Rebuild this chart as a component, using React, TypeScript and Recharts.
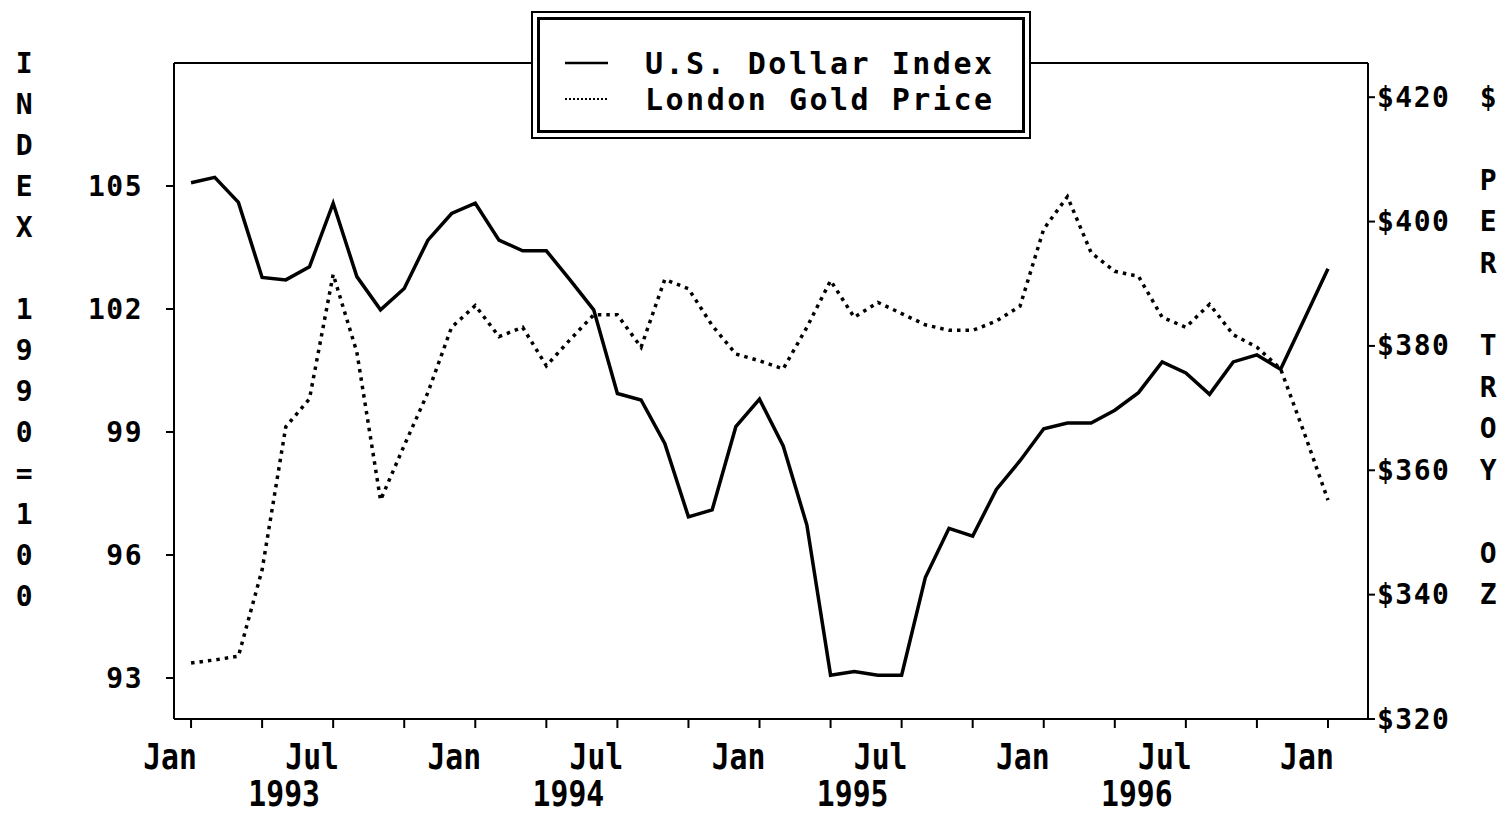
import { Line, LineChart, ReferenceLine, XAxis, YAxis } from "recharts";

// Monthly averages, Jan 1993 .. Jan 1997
const periods = [
  "Jan 93", "Feb 93", "Mar 93", "Apr 93", "May 93", "Jun 93", "Jul 93", "Aug 93", "Sep 93", "Oct 93", "Nov 93", "Dec 93",
  "Jan 94", "Feb 94", "Mar 94", "Apr 94", "May 94", "Jun 94", "Jul 94", "Aug 94", "Sep 94", "Oct 94", "Nov 94", "Dec 94",
  "Jan 95", "Feb 95", "Mar 95", "Apr 95", "May 95", "Jun 95", "Jul 95", "Aug 95", "Sep 95", "Oct 95", "Nov 95", "Dec 95",
  "Jan 96", "Feb 96", "Mar 96", "Apr 96", "May 96", "Jun 96", "Jul 96", "Aug 96", "Sep 96", "Oct 96", "Nov 96", "Dec 96",
  "Jan 97",
];

const dollarIndex = [
  105.08, 105.21, 104.6, 102.77, 102.71, 103.03, 104.58, 102.79, 101.98, 102.5, 103.68, 104.33,
  104.58, 103.68, 103.42, 103.42, 102.71, 101.98, 99.94, 99.78, 98.72, 96.93, 97.1, 99.13,
  99.8, 98.66, 96.73, 93.07, 93.16, 93.07, 93.07, 95.45, 96.65, 96.46, 97.6, 98.3,
  99.08, 99.22, 99.22, 99.53, 99.96, 100.71, 100.44, 99.92, 100.71, 100.88, 100.53, 101.75,
  102.98,
];

const goldPrice = [
  329.0, 329.5, 330.1, 344, 367, 371.5, 391.5, 379, 355.2, 364, 372.5, 383,
  386.5, 381.5, 383, 376.8, 381, 385, 385, 379.8, 390.7, 389.2, 383.3, 378.7,
  377.6, 376.3, 383, 390.5, 384.6, 387, 385.2, 383.4, 382.5, 382.5, 384, 386.4,
  398.8, 404, 395, 392, 391.2, 384.6, 383, 386.7, 381.8, 379.8, 376.3, 366,
  355.2,
];

const quarterTicks = [0, 3, 6, 9, 12, 15, 18, 21, 24, 27, 30, 33, 36, 39, 42, 45, 48];
const monthTickLabels = ["Jan", "", "Jul", "", "Jan", "", "Jul", "", "Jan", "", "Jul", "", "Jan", "", "Jul", "", "Jan"];
const yearTickLabels = ["", "", "1993", "", "", "", "1994", "", "", "", "1995", "", "", "", "1996", "", ""];

const leftTicks = [93, 96, 99, 102, 105];
const rightTicks = [320, 340, 360, 380, 400, 420];

const leftTitle = ["I", "N", "D", "E", "X", "", "1", "9", "9", "0", "=", "1", "0", "0"];
const rightTitle = ["$", "", "P", "E", "R", "", "T", "R", "O", "Y", "", "O", "Z"];

const legendLabels = ["U.S. Dollar Index", "London Gold Price"];

const data = periods.map((period, idx) => ({
  period,
  idx,
  dollar: dollarIndex[idx],
  gold: goldPrice[idx],
}));

const MONO = "'DejaVu Sans Mono', monospace";
const INK = "#000";

const axisFont = {
  fontFamily: MONO,
  fontSize: 28,
  fontWeight: 700,
  letterSpacing: "1.5px",
};

function XTick(props: any) {
  const { x, y, payload } = props;
  const k = quarterTicks.indexOf(payload.value);
  const month = monthTickLabels[k] ?? "";
  const year = yearTickLabels[k] ?? "";
  const font = { fontFamily: MONO, fontSize: 35, fontWeight: 700 };
  return (
    <g>
      {month && (
        <text
          transform={`translate(${x - 21},${y + 27}) scale(0.85,1)`}
          textAnchor="middle"
          dominantBaseline="central"
          fill={INK}
          style={font}
        >
          {month}
        </text>
      )}
      {year && (
        <text
          transform={`translate(${x - 49},${y + 64}) scale(0.85,1)`}
          textAnchor="middle"
          dominantBaseline="central"
          fill={INK}
          style={font}
        >
          {year}
        </text>
      )}
    </g>
  );
}

function YTick(props: any) {
  const { x, y, payload, textAnchor, side } = props;
  const label = side === "right" ? `$${payload.value}` : `${payload.value}`;
  return (
    <text
      x={x}
      y={y}
      textAnchor={textAnchor}
      dominantBaseline="central"
      fill={INK}
      style={axisFont}
    >
      {label}
    </text>
  );
}

export default function App() {
  return (
    <div
      style={{
        position: "absolute",
        left: 0,
        top: 0,
        width: 1506,
        height: 813,
        background: "#fff",
      }}
    >
      <LineChart
        width={1506}
        height={813}
        data={data}
        margin={{ top: 63, right: 0, bottom: 0, left: 0 }}
      >
        <XAxis
          type="number"
          dataKey="idx"
          domain={[-0.72, 49.69]}
          ticks={quarterTicks}
          interval={0}
          height={94}
          tickSize={9}
          tickMargin={2}
          axisLine={{ stroke: INK, strokeWidth: 2 }}
          tickLine={{ stroke: INK, strokeWidth: 2 }}
          tick={(p: any) => <XTick {...p} />}
        />
        <YAxis
          yAxisId="left"
          orientation="left"
          width={174}
          domain={[92, 108]}
          ticks={leftTicks}
          interval={0}
          tickSize={8}
          tickMargin={23}
          axisLine={{ stroke: INK, strokeWidth: 2 }}
          tickLine={{ stroke: INK, strokeWidth: 2 }}
          tick={(p: any) => <YTick {...p} side="left" />}
        />
        <YAxis
          yAxisId="right"
          orientation="right"
          width={138}
          domain={[320, 425.5]}
          ticks={rightTicks}
          interval={0}
          tickSize={7}
          tickMargin={2}
          axisLine={{ stroke: INK, strokeWidth: 2 }}
          tickLine={{ stroke: INK, strokeWidth: 2 }}
          tick={(p: any) => <YTick {...p} side="right" />}
        />
        {/* top edge of the plot frame */}
        <ReferenceLine yAxisId="left" y={108} stroke={INK} strokeWidth={2} />
        <Line
          yAxisId="right"
          dataKey="gold"
          type="linear"
          stroke={INK}
          strokeWidth={3.5}
          strokeDasharray="3.5 5"
          dot={false}
          activeDot={false}
          isAnimationActive={false}
        />
        <Line
          yAxisId="left"
          dataKey="dollar"
          type="linear"
          stroke={INK}
          strokeWidth={3.5}
          dot={false}
          activeDot={false}
          isAnimationActive={false}
        />
      </LineChart>

      {/* axis titles and the boxed legend sit above the chart svg */}
      <svg
        width={1506}
        height={813}
        style={{ position: "absolute", left: 0, top: 0, pointerEvents: "none" }}
      >
        {leftTitle.map((ch, k) => (
          <text
            key={`l${k}`}
            x={25}
            y={63 + 41 * k}
            textAnchor="middle"
            dominantBaseline="central"
            fill={INK}
            style={axisFont}
          >
            {ch}
          </text>
        ))}
        {rightTitle.map((ch, k) => (
          <text
            key={`r${k}`}
            x={1489}
            y={97.2 + 41.45 * k}
            textAnchor="middle"
            dominantBaseline="central"
            fill={INK}
            style={axisFont}
          >
            {ch}
          </text>
        ))}

        <rect x={532} y={12} width={498} height={126} fill="#fff" stroke={INK} strokeWidth={2} />
        <rect x={538.5} y={18.5} width={485} height={113} fill="none" stroke={INK} strokeWidth={3} />
        <line x1={565} x2={608} y1={63} y2={63} stroke={INK} strokeWidth={2.5} />
        <line x1={565} x2={608} y1={99} y2={99} stroke={INK} strokeWidth={2} strokeDasharray="2 2" />
        {legendLabels.map((label, k) => (
          <text
            key={label}
            x={645}
            y={63 + 36 * k}
            dominantBaseline="central"
            fill={INK}
            style={{ fontFamily: MONO, fontSize: 30, fontWeight: 700, letterSpacing: "2.5px" }}
          >
            {label}
          </text>
        ))}
      </svg>
    </div>
  );
}
